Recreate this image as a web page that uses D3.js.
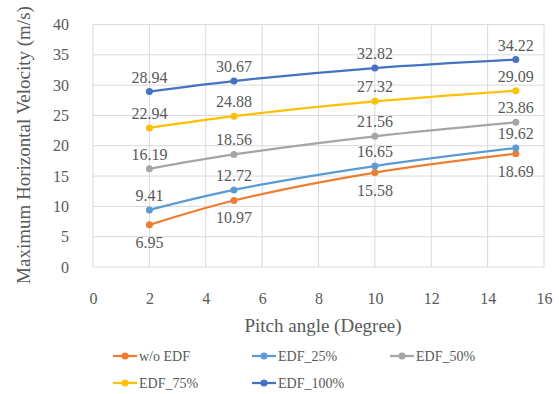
<!DOCTYPE html>
<html><head><meta charset="utf-8">
<script src="https://cdn.jsdelivr.net/npm/d3@7"></script>
<style>body{margin:0;background:#fff}svg{display:block}</style>
</head><body><svg id="c" width="559" height="394" font-family="Liberation Serif"></svg>
<script>
const pitch = [2, 5, 10, 15];
const seriesNames = ["w/o EDF", "EDF_25%", "EDF_50%", "EDF_75%", "EDF_100%"];
const woEDF = [6.95, 10.97, 15.58, 18.69];
const edf25 = [9.41, 12.72, 16.65, 19.62];
const edf50 = [16.19, 18.56, 21.56, 23.86];
const edf75 = [22.94, 24.88, 27.32, 29.09];
const edf100 = [28.94, 30.67, 32.82, 34.22];
const xTicks = [0, 2, 4, 6, 8, 10, 12, 14, 16];
const yTicks = [0, 5, 10, 15, 20, 25, 30, 35, 40];
const colors = ["#ED7D31", "#5B9BD5", "#A5A5A5", "#FFC000", "#4472C4"];
const labelBelow = [true, false, false, false, false];
const allSeries = [woEDF, edf25, edf50, edf75, edf100];
const FONT = "Liberation Serif";

const svg = d3.select("#c");
const x = d3.scaleLinear().domain([0, 16]).range([93, 544]);
const y = d3.scaleLinear().domain([0, 40]).range([267, 24.5]);

const grid = svg.append("g");
grid.selectAll("line.h").data(yTicks).join("line")
  .attr("x1", x(0)).attr("x2", x(16)).attr("y1", d => y(d)).attr("y2", d => y(d))
  .attr("stroke", "#D9D9D9").attr("stroke-width", 1);
grid.selectAll("line.v").data(xTicks).join("line")
  .attr("y1", y(0)).attr("y2", y(40)).attr("x1", d => x(d)).attr("x2", d => x(d))
  .attr("stroke", "#D9D9D9").attr("stroke-width", 1);

const yAxis = d3.axisLeft(y).tickValues(yTicks).tickSize(0).tickPadding(24);
const gy = svg.append("g").attr("transform", `translate(${x(0)},0)`).call(yAxis)
  .attr("font-family", FONT).attr("font-size", 16);
gy.select(".domain").remove();

const xAxis = d3.axisBottom(x).tickValues(xTicks).tickSize(0).tickPadding(26);
const gx = svg.append("g").attr("transform", `translate(0,${y(0)})`).call(xAxis)
  .attr("font-family", FONT).attr("font-size", 16);
gx.select(".domain").remove();

const line = d3.line().x((d, i) => x(pitch[i])).y(d => y(d)).curve(d3.curveCatmullRom.alpha(0.5));
allSeries.forEach((s, k) => {
  const g = svg.append("g");
  g.append("path").attr("d", line(s)).attr("fill", "none").attr("stroke", colors[k]).attr("stroke-width", 2.25);
  g.selectAll("circle").data(s).join("circle")
    .attr("cx", (d, i) => x(pitch[i])).attr("cy", d => y(d)).attr("r", 3.5).attr("fill", colors[k]);
  g.selectAll("text").data(s).join("text")
    .attr("x", (d, i) => x(pitch[i])).attr("y", d => y(d) + (labelBelow[k] ? 23 : -9))
    .attr("text-anchor", "middle").attr("font-family", FONT).attr("font-size", 16).text(d => d.toFixed(2));
});

svg.append("text").attr("x", 323).attr("y", 332).attr("text-anchor", "middle")
  .attr("font-family", FONT).attr("font-size", 19).text("Pitch angle (Degree)");
svg.append("text").attr("transform", `translate(30,145) rotate(-90)`).attr("text-anchor", "middle")
  .attr("font-family", FONT).attr("font-size", 19).text("Maximum Horizontal Velocity (m/s)");

const legPos = [[113, 356], [252, 356], [390, 356], [113, 383], [252, 383]];
seriesNames.forEach((n, k) => {
  const [lx, ly] = legPos[k];
  const g = svg.append("g");
  g.append("line").attr("x1", lx).attr("x2", lx + 24).attr("y1", ly).attr("y2", ly)
    .attr("stroke", colors[k]).attr("stroke-width", 2.25);
  g.append("circle").attr("cx", lx + 12).attr("cy", ly).attr("r", 3.5).attr("fill", colors[k]);
  g.append("text").attr("x", lx + 26).attr("y", ly + 5).attr("font-family", FONT).attr("font-size", 14).text(n);
});

svg.selectAll("text").attr("fill", "#595959");
</script></body></html>
